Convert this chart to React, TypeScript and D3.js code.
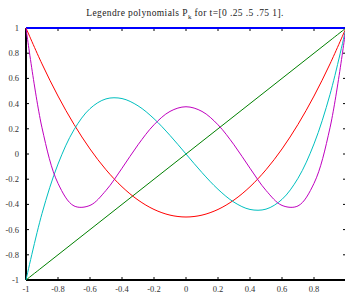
import React from 'react';
import * as d3 from 'd3';

// sample points
const tValues = [-1, -0.9, -0.8, -0.7, -0.6, -0.5, -0.4, -0.3, -0.2, -0.1, 0, 0.1, 0.2, 0.3, 0.4, 0.5, 0.6, 0.7, 0.8, 0.9, 1];
const p0 = [1, 1, 1, 1, 1, 1, 1, 1, 1, 1, 1, 1, 1, 1, 1, 1, 1, 1, 1, 1, 1];
const p1 = [-1, -0.9, -0.8, -0.7, -0.6, -0.5, -0.4, -0.3, -0.2, -0.1, 0, 0.1, 0.2, 0.3, 0.4, 0.5, 0.6, 0.7, 0.8, 0.9, 1];
const p2 = [1, 0.715, 0.46, 0.235, 0.04, -0.125, -0.26, -0.365, -0.44, -0.485, -0.5, -0.485, -0.44, -0.365, -0.26, -0.125, 0.04, 0.235, 0.46, 0.715, 1];
const p3 = [-1, -0.4725, -0.08, 0.1925, 0.36, 0.4375, 0.44, 0.3825, 0.28, 0.1475, 0, -0.1475, -0.28, -0.3825, -0.44, -0.4375, -0.36, -0.1925, 0.08, 0.4725, 1];
const p4 = [1, 0.208, -0.233, -0.412, -0.408, -0.289, -0.113, 0.073, 0.232, 0.338, 0.375, 0.338, 0.232, 0.073, -0.113, -0.289, -0.408, -0.412, -0.233, 0.208, 1];

const series = [
  { name: 'P0', values: p0, color: '#0000ff' },
  { name: 'P1', values: p1, color: '#008000' },
  { name: 'P2', values: p2, color: '#ff0000' },
  { name: 'P3', values: p3, color: '#00bfbf' },
  { name: 'P4', values: p4, color: '#bf00bf' },
];

const xTicks = [-1, -0.8, -0.6, -0.4, -0.2, 0, 0.2, 0.4, 0.6, 0.8, 1];
const yTicks = [-1, -0.8, -0.6, -0.4, -0.2, 0, 0.2, 0.4, 0.6, 0.8, 1];

const W = 345, H = 296;
const margin = { top: 28, right: -1, bottom: 16, left: 26 };

export default function App() {
  const x = d3.scaleLinear().domain([-1, 1]).range([margin.left, W - margin.right]);
  const y = d3.scaleLinear().domain([-1, 1]).range([H - margin.bottom, margin.top]);

  const line = d3.line<number>()
    .x((_, i) => x(tValues[i]))
    .y(d => y(d))
    .curve(d3.curveCatmullRom);

  const font = '"Liberation Serif", "Times New Roman", serif';
  const x0 = x(-1), x1 = x(1), y0 = y(-1), y1 = y(1);

  return (
    <svg width={W} height={H} style={{ position: 'absolute', left: 0, top: 0, background: '#fff' }}>
      <text x={185} y={16} textAnchor="middle" fontFamily={font} fontSize={9.5} fill="#222" letterSpacing={0.4}>
        Legendre polynomials P<tspan dy={3} fontSize={7}>k</tspan><tspan dy={-3}> for t=[0 .25 .5 .75 1].</tspan>
      </text>

      {/* ticks on all four sides, pointing inward */}
      {xTicks.map(t => (
        <g key={'xt' + t}>
          <line x1={x(t)} x2={x(t)} y1={y0} y2={y0 - 3} stroke="#000" />
          <line x1={x(t)} x2={x(t)} y1={y1} y2={y1 + 3} stroke="#000" />
          {/* the label at t=1 falls outside the window in the original */}
          {t < 1 && (
            <text x={x(t)} y={292} textAnchor="middle" fontFamily={font} fontSize={8.5} fill="#333">{String(t)}</text>
          )}
        </g>
      ))}
      {yTicks.map(t => (
        <g key={'yt' + t}>
          <line x1={x0} x2={x0 + 3} y1={y(t)} y2={y(t)} stroke="#000" />
          <line x1={x1} x2={x1 - 3} y1={y(t)} y2={y(t)} stroke="#000" />
          <text x={19} y={y(t) + 3} textAnchor="end" fontFamily={font} fontSize={8.5} fill="#333">{String(t)}</text>
        </g>
      ))}

      {/* frame */}
      <line x1={x1} x2={x1} y1={y1} y2={y0} stroke="#000" strokeWidth={1} />
      <line x1={x0} x2={x1} y1={y1} y2={y1} stroke="#000" strokeWidth={1} />
      <line x1={x0} x2={x0} y1={y1} y2={y0} stroke="#000" strokeWidth={2} />
      <line x1={x0} x2={x1} y1={y0} y2={y0} stroke="#000" strokeWidth={2} />

      {series.map(s => (
        <path key={s.name} d={line(s.values) || ''} fill="none" stroke={s.color} strokeWidth={s.name === 'P0' ? 2 : 1} />
      ))}
    </svg>
  );
}
